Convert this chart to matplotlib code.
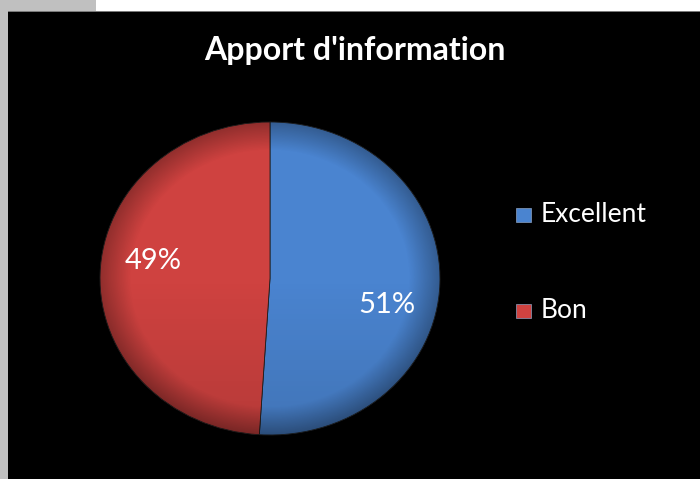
import matplotlib
matplotlib.use("Agg")
import matplotlib.pyplot as plt
import numpy as np
from matplotlib.patches import Rectangle

# ---- data -------------------------------------------------------------
categories = ["Excellent", "Bon"]
shares = [51, 49]
colors = ["#4a84d0", "#cf4240"]
title = "Apport d'information"

W, H = 700, 479
plt.rcParams["font.family"] = ["Lato", "DejaVu Sans"]

fig = plt.figure(figsize=(W / 100, H / 100), dpi=100, facecolor="white")

# frame: grey strip on the left, black chart area
bg = fig.add_axes([0, 0, 1, 1])
bg.set_xlim(0, W)
bg.set_ylim(H, 0)
bg.axis("off")
bg.add_patch(Rectangle((0, 0), 96, 12, color="#c0c0c0", lw=0))
bg.add_patch(Rectangle((0, 0), 8, H, color="#c0c0c0", lw=0))
bg.add_patch(Rectangle((8, 11), W - 8, 2, color="#7a7a7a", lw=0))
bg.add_patch(Rectangle((8, 12), W - 8, H - 12, color="black", lw=0))

bg.text(355, 50, title, color="white", fontsize=23, fontweight="bold",
        ha="center", va="center")

# ---- pie (slightly squashed, like the Excel 3D-ish look) --------------
ax = fig.add_axes([100 / W, 1 - 435 / H, 340 / W, 313 / H])
ax.set_facecolor("none")
wedges, _, autotexts = ax.pie(
    shares, colors=colors, startangle=90, counterclock=False,
    autopct="%d%%", pctdistance=0.7,
    wedgeprops=dict(edgecolor="#202020", linewidth=0.6),
    textprops=dict(color="white", fontsize=21),
)
ax.set_aspect("auto")
ax.set_xlim(-1.0, 1.0)
ax.set_ylim(-1.0, 1.0)

# nudge the labels to where Excel put them
autotexts[0].set_position((0.69, -0.17))
autotexts[1].set_position((-0.69, 0.11))

# shading: lighter on top, darker toward bottom and the rim
n = 300
yy, xx = np.mgrid[1:-1:n * 1j, -1:1:n * 1j]
r = np.sqrt(xx ** 2 + yy ** 2)
shade = np.zeros((n, n, 4))
shade[..., 3] = np.clip((r - 0.82) / 0.18, 0, 1) * 0.3 + np.clip(-yy, 0, 1) * 0.12
for w in wedges:
    im = ax.imshow(shade, extent=(-1, 1, -1, 1), aspect="auto", zorder=3)
    im.set_clip_path(w)
for t in autotexts:
    t.set_zorder(5)

# ---- legend ------------------------------------------------------------
for i, (lab, c) in enumerate(zip(categories, colors)):
    y = 215 + i * 96
    bg.add_patch(Rectangle((516, y - 7), 15, 14, facecolor=c,
                           edgecolor="#8aa0c0", lw=0.5))
    bg.text(541, y, lab, color="white", fontsize=19, ha="left", va="center")

fig.savefig("out.png", dpi=100, facecolor=fig.get_facecolor())
